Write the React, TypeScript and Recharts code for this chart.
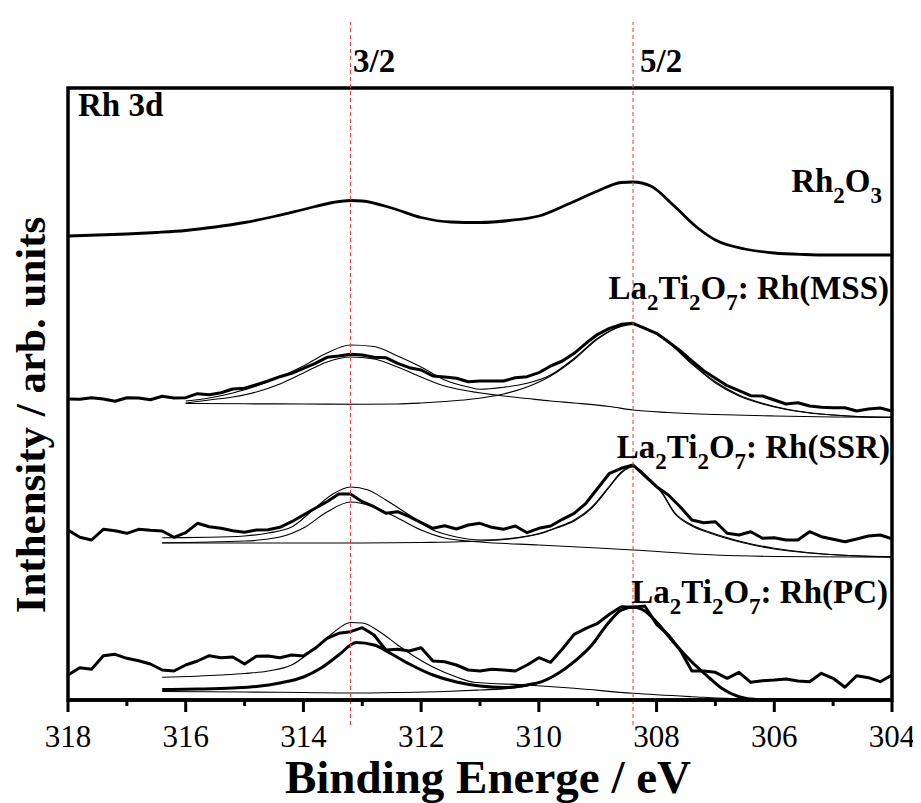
import React from "react";
import { LineChart, Line, XAxis, YAxis, ReferenceArea, ReferenceLine } from "recharts";

// binding energy grid of the measured spectra (eV)
const GRID = [
  318, 317.8, 317.6, 317.4, 317.2, 317, 316.8, 316.6, 316.4, 316.2, 316, 315.8, 315.6, 315.4, 315.2, 315,
  314.8, 314.6, 314.4, 314.2, 314, 313.8, 313.6, 313.4, 313.2, 313, 312.8, 312.6, 312.4, 312.2, 312,
  311.8, 311.6, 311.4, 311.2, 311, 310.8, 310.6, 310.4, 310.2, 310, 309.8, 309.6, 309.4, 309.2, 309,
  308.8, 308.6, 308.4, 308.2, 308, 307.8, 307.6, 307.4, 307.2, 307, 306.8, 306.6, 306.4, 306.2, 306,
  305.8, 305.6, 305.4, 305.2, 305, 304.8, 304.6, 304.4, 304.2, 304,
];

const X_TICKS = [318, 317, 316, 315, 314, 313, 312, 311, 310, 309, 308, 307, 306, 305, 304];
const PEAK_LINES = [313.2, 308.4];

// Rh2O3 reference (smooth curve, offset intensity)
const RH_E = [318, 317.5, 317, 316.5, 316, 315.5, 315, 314.5, 314, 313.5, 313.2, 313, 312.5, 312, 311.5, 311,
  310.5, 310, 309.5, 309, 308.6, 308.4, 308.1, 307.7, 307.3, 307, 306.5, 306, 305.5, 305, 304];
const RH = [464, 465, 466, 467.5, 469.5, 473, 477.5, 483.5, 490.5, 497.5, 499.5, 499, 492, 482.5, 478, 477.5,
  479.5, 484, 496, 509, 517.5, 518, 514, 494, 472, 460, 451, 447, 445.5, 445, 445];

// La2Ti2O7:Rh (MSS)
const MSS_RAW = [301, 300.7, 302.3, 301, 298.7, 302.3, 302, 300.3, 303.7, 302, 302.3, 306.3, 305.3, 307.3, 311,
  311.7, 315.3, 319, 323.3, 326.7, 331.7, 336.7, 342.7, 344, 345.7, 345, 342.7, 342.3, 336.7, 332.3, 330, 324,
  323, 321.7, 318.3, 319, 319, 319, 322.3, 323.3, 327.3, 334, 339, 346.7, 356.7, 365.7, 371.7, 375.7, 376.7,
  371.7, 366.7, 358.3, 349.3, 339, 329.3, 321.7, 314.3, 309.3, 304.3, 304, 300, 296, 297.3, 294, 292.7, 292.3,
  292.3, 289, 291, 292, 289];
const MSS_ENV_E = [316, 315.6, 315.2, 314.8, 314.4, 314, 313.6, 313.2, 312.8, 312.4, 312, 311.6, 311.2, 311, 310.6,
  310.2, 309.8, 309.4, 309, 308.6, 308.4, 308.2, 307.8, 307.4, 307, 306.6, 306.2, 305.8, 305.4, 305, 304.5, 304];
const MSS_ENV = [299, 302, 307, 314, 323, 334, 347, 355, 353.5, 344, 333, 320, 313, 310.7, 312.7, 316.7, 325,
  341.7, 361.7, 374, 376, 372.3, 358.3, 336.7, 318.3, 305, 296.7, 291, 287.3, 285, 283.3, 282.7];
const MSS_P32_E = [316, 315.6, 315.2, 314.8, 314.4, 314, 313.6, 313.2, 312.8, 312.4, 312, 311.6, 311.2, 310.6,
  310.2, 309.8, 309.4, 308.8, 308.4, 307.8, 307, 306, 305, 304];
const MSS_P32 = [297, 300, 303, 308, 316, 327, 338, 343, 341, 333, 323, 314, 309, 304, 301.5, 299, 297, 293.5,
  290, 287.5, 285.5, 284, 283, 282.7];
const MSS_P52_E = [316, 315, 314, 313, 312.4, 312, 311.6, 311.2, 310.6, 310.2, 309.8, 309.4, 309, 308.6, 308.4,
  308.2, 307.8, 307.4, 307, 306.6, 306.2, 305.8, 305.4, 305, 304.5, 304];
const MSS_P52 = [296.5, 296.2, 296, 295.7, 296, 297, 298.5, 300.5, 306, 313, 324, 340.5, 361, 373.5, 375.5, 372,
  357.5, 336, 317, 304, 296, 290.5, 287, 285, 283.3, 282.7];

// La2Ti2O7:Rh (SSR)
const SSR_RAW = [170, 162.7, 160, 170.7, 169.3, 166.7, 170.7, 169.7, 169, 162.7, 167.3, 176.7, 173.3, 171.7,
  169.3, 167.7, 170, 170.3, 172.7, 178.3, 185, 191.7, 198.3, 206, 206, 198.3, 193.3, 186.7, 188.3, 183.3, 177.3,
  171.7, 174.3, 171, 175, 176.7, 172.7, 170.7, 174, 167.3, 171.7, 174, 180.7, 186.7, 196.7, 211.7, 226.7, 231.7,
  235, 224, 213.3, 205, 193.3, 180, 177.3, 178.3, 166.7, 165, 168.3, 161.7, 162.3, 160, 160, 168.3, 163.3, 160.7,
  158.3, 161, 164, 165, 161.3];
const SSR_ENV_E = [316.4, 315.6, 315, 314.6, 314.2, 313.8, 313.5, 313.2, 312.9, 312.6, 312.2, 311.8, 311.4, 311,
  310.5, 310, 309.7, 309.4, 309.1, 308.8, 308.6, 308.4, 308.15, 307.9, 307.7, 307.4, 307.1, 306.55, 306, 305.4,
  304.9, 304];
const SSR_ENV = [162.3, 162.7, 164, 167, 173, 192, 206, 213, 210, 200, 185, 170, 163, 160, 161.5, 166.5, 172.5,
  180, 193, 214, 228, 234, 223, 207, 188, 175, 168, 158.3, 151.7, 147.3, 145, 143.3];
const SSR_P32_E = [316.4, 315, 314.4, 314, 313.6, 313.2, 312.8, 312.4, 312, 311.6, 311, 310, 309, 308.4, 307, 306, 304];
const SSR_P32 = [157.3, 159, 163, 172, 188, 198, 193, 182, 170, 162, 158, 155, 152, 150, 145, 143.5, 142.7];
const SSR_P52_E = [316.4, 313, 312, 311, 310.5, 310, 309.7, 309.4, 309.1, 308.8, 308.6, 308.4, 308.15, 307.9,
  307.7, 307.4, 307.1, 306.55, 306, 305.4, 304.9, 304];
const SSR_P52 = [157, 157, 157.5, 159, 161, 166, 172, 179, 192, 213, 227, 233, 222, 206, 187, 174, 167, 157.5,
  151, 147, 145, 143];

// La2Ti2O7:Rh (PC)
const PC_RAW = [25, 32.3, 30.7, 44.3, 45.7, 41.7, 39.3, 36, 30, 29, 35, 39, 44.3, 42.3, 43, 36, 43.7, 44, 42.3,
  45, 44, 51.7, 61.7, 66.7, 68.3, 72.3, 65, 50, 50.7, 49, 52.3, 39, 38.3, 35, 30, 29, 30.7, 30, 29, 35, 42.3, 37.7,
  51, 65.7, 71.7, 76.7, 85.7, 93.3, 92.7, 94, 75.7, 65, 50, 29, 29, 27.7, 21.7, 27.7, 17.7, 19.3, 20, 21, 19,
  18.3, 26.7, 21.7, 12.7, 24.3, 22.3, 18.3, 25];
const PC_FIT_E = [316.4, 315.8, 315.2, 314.8, 314.4, 314, 313.7, 313.4, 313.1, 312.8, 312.5, 312.2, 311.8, 311.4,
  311, 310.6, 310.2, 309.95, 309.67, 309.4, 309.1, 308.82, 308.6, 308.4, 308.2, 308, 307.7, 307.4, 307.1, 306.9,
  306.6, 306.3, 305.5, 304];
const PC_FIT = [10.5, 11, 12, 13.5, 17, 23, 32, 45, 57.5, 55, 46, 36, 25, 18, 14, 12.5, 15, 18.3, 26.7, 38.3, 55,
  77, 90, 93, 89, 78, 57, 38, 22, 12, 3.3, 0.5, 0, 0];
const PC_P32_E = [316.4, 315.4, 315, 314.6, 314.2, 313.8, 313.5, 313.2, 313, 312.7, 312.4, 312.1, 311.8, 311.4,
  311.1, 310.2, 309.4, 308.4, 307.4, 306.55, 305.5, 304];
const PC_P32 = [22.7, 25, 26.5, 29, 35, 52, 67, 77.5, 77, 68, 55, 43, 33, 23, 17.7, 15, 11.7, 6.7, 3.3, 1, 0.3, 0];
const PC_P52_E = [316.4, 315, 314, 313.2, 312.4, 311.6, 311, 310.5, 310.2, 309.95, 309.67, 309.4, 309.1, 308.82,
  308.6, 308.4, 308.2, 308, 307.7, 307.4, 307.1, 306.9, 306.6, 306.3, 305.5, 304];
const PC_P52 = [8.5, 8, 7.5, 7, 7.5, 8.5, 10, 11.5, 14, 18, 26, 37.5, 54, 76, 89, 92, 89, 78, 57, 38, 22, 12, 3.5,
  0.5, 0, 0];

const pts = (es: number[], vs: number[]) => es.map((e, i) => ({ e, v: vs[i] }));

const SERIF = "Liberation Serif, Tinos, Times New Roman, DejaVu Serif, serif";
const RED = "#ee3b3b";

const series = [
  { id: "rh", data: pts(RH_E, RH), w: 2.8, smooth: true },
  { id: "mssEnv", data: pts(MSS_ENV_E, MSS_ENV), w: 1.1, smooth: true },
  { id: "mssP32", data: pts(MSS_P32_E, MSS_P32), w: 1.1, smooth: true },
  { id: "mssP52", data: pts(MSS_P52_E, MSS_P52), w: 1.1, smooth: true },
  { id: "mssRaw", data: pts(GRID, MSS_RAW), w: 3, smooth: false },
  { id: "ssrEnv", data: pts(SSR_ENV_E, SSR_ENV), w: 1.1, smooth: true },
  { id: "ssrP32", data: pts(SSR_P32_E, SSR_P32), w: 1.1, smooth: true },
  { id: "ssrP52", data: pts(SSR_P52_E, SSR_P52), w: 1.1, smooth: true },
  { id: "ssrRaw", data: pts(GRID, SSR_RAW), w: 3, smooth: false },
  { id: "pcP32", data: pts(PC_P32_E, PC_P32), w: 1.1, smooth: true },
  { id: "pcP52", data: pts(PC_P52_E, PC_P52), w: 1.1, smooth: true },
  { id: "pcFit", data: pts(PC_FIT_E, PC_FIT), w: 3, smooth: true },
  { id: "pcRaw", data: pts(GRID, PC_RAW), w: 3, smooth: false },
];

function EnergyTick(props: any) {
  const { x, y, payload } = props;
  const major = payload.value % 2 === 0;
  return (
    <g>
      <line x1={x} x2={x} y1={y} y2={y + (major ? 12 : 6)} stroke="#000" strokeWidth={3} />
      {major && (
        <text x={x} y={y + 47} textAnchor="middle" style={{ fontFamily: SERIF, fontSize: 31 }} fill="#000">
          {payload.value}
        </text>
      )}
    </g>
  );
}

function Formula({ x, y, parts }: { x: number; y: number; parts: [string, boolean][] }) {
  return (
    <text
      x={x}
      y={y}
      textAnchor="end"
      style={{ fontFamily: SERIF, fontSize: 33, fontWeight: "bold" }}
      fill="#000"
    >
      {parts.map(([t, sub], i) => {
        const prevSub = i > 0 && parts[i - 1][1];
        const dy = sub ? 11 : prevSub ? -11 : 0;
        return (
          <tspan key={i} dy={dy} style={{ fontSize: sub ? 23 : 33 }}>
            {t}
          </tspan>
        );
      })}
    </text>
  );
}

const bold = (size: number) => ({ fontFamily: SERIF, fontSize: size, fontWeight: "bold" as const });

export default function App() {
  return (
    <div style={{ position: "relative", width: 913, height: 795, fontFamily: SERIF }}>
      <LineChart width={913} height={795} margin={{ top: 80, right: 29, bottom: 63, left: 60 }}>
        <XAxis
          type="number"
          dataKey="e"
          domain={[304, 318]}
          reversed
          allowDataOverflow
          ticks={X_TICKS}
          interval={0}
          height={40}
          tickSize={0}
          tickMargin={0}
          tickLine={false}
          axisLine={{ stroke: "#000", strokeWidth: 3.5 }}
          tick={<EnergyTick />}
        />
        <YAxis type="number" domain={[0, 612]} allowDataOverflow hide />
        <ReferenceArea x1={318} x2={304} y1={0} y2={612} fill="none" stroke="#000" strokeWidth={3.5} />
        {series.map((s) => (
          <Line
            key={s.id}
            data={s.data}
            dataKey="v"
            type={s.smooth ? "monotone" : "linear"}
            stroke="#000"
            strokeWidth={s.w}
            strokeLinejoin="round"
            dot={false}
            activeDot={false}
            isAnimationActive={false}
          />
        ))}
        {PEAK_LINES.map((e) => (
          <ReferenceLine
            key={e}
            segment={[{ x: e, y: -25 }, { x: e, y: 678 }]}
            stroke={RED}
            strokeWidth={1}
            strokeDasharray="4 3"
            ifOverflow="visible"
          />
        ))}
      </LineChart>
      <svg
        width={913}
        height={795}
        style={{ position: "absolute", left: 0, top: 0, pointerEvents: "none" }}
      >
        <g fill="#000">
          <text x={345} y={64} style={bold(33)}>3/2</text>
          <text x={632} y={64} style={bold(33)}>5/2</text>
          <text x={70} y={108} style={bold(33)}>Rh 3d</text>
          <text x={480} y={785} style={bold(47)} textAnchor="middle">Binding Energe / eV</text>
          <text transform="translate(37,407) rotate(-90)" style={bold(43)} textAnchor="middle">
            Inthensity / arb. units
          </text>
        </g>
        <Formula x={874} y={184} parts={[["Rh", false], ["2", true], ["O", false], ["3", true]]} />
        <Formula
          x={881}
          y={291}
          parts={[["La", false], ["2", true], ["Ti", false], ["2", true], ["O", false], ["7", true], [": Rh(MSS)", false]]}
        />
        <Formula
          x={882}
          y={450}
          parts={[["La", false], ["2", true], ["Ti", false], ["2", true], ["O", false], ["7", true], [": Rh(SSR)", false]]}
        />
        <Formula
          x={880}
          y={595}
          parts={[["La", false], ["2", true], ["Ti", false], ["2", true], ["O", false], ["7", true], [": Rh(PC)", false]]}
        />
      </svg>
    </div>
  );
}
